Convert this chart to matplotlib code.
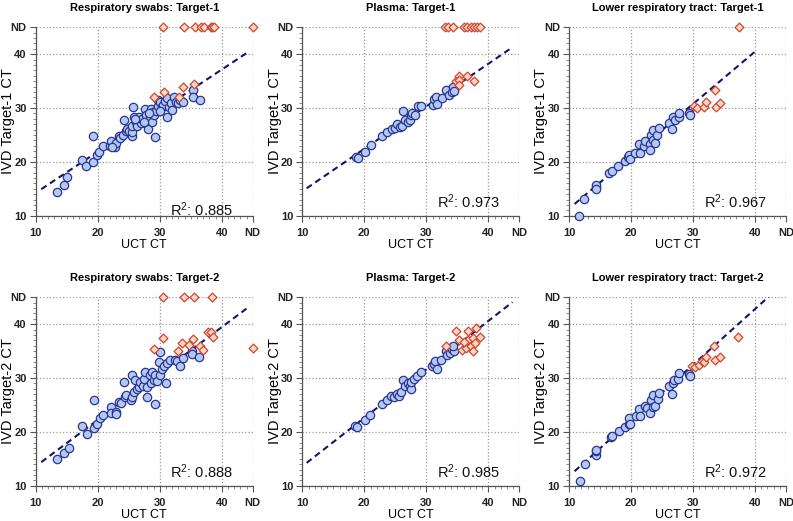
import matplotlib
matplotlib.use("Agg")
import matplotlib.pyplot as plt
import numpy as np
from matplotlib.ticker import MultipleLocator, FixedLocator

plt.rcParams['font.family'] = ['Liberation Sans', 'DejaVu Sans']
plt.rcParams['mathtext.fontset'] = 'custom'
plt.rcParams['mathtext.rm'] = 'Liberation Sans'
plt.rcParams['mathtext.it'] = 'Liberation Sans'

ND = 45

titles = ["Respiratory swabs: Target-1", "Plasma: Target-1", "Lower respiratory tract: Target-1",
          "Respiratory swabs: Target-2", "Plasma: Target-2", "Lower respiratory tract: Target-2"]
ylabels = ["IVD Target-1 CT"] * 3 + ["IVD Target-2 CT"] * 3
r2_values = ["0.885", "0.973", "0.967", "0.888", "0.985", "0.972"]
tick_labels = ["10", "20", "30", "40", "ND"]
tick_values = [10, 20, 30, 40, ND]

# regression lines: slope, intercept, x start, x end
line_slope = [0.763, 0.789, 0.972, 0.861, 0.899, 1.035]
line_intercept = [6.63, 6.66, 1.60, 5.01, 4.64, 1.42]
line_x0 = [10.9, 10.7, 10.9, 10.9, 10.7, 10.9]
line_x1 = [44.4, 43.8, 40.0, 44.1, 43.9, 42.4]

# ---- Panel 1: Respiratory swabs Target-1
p1_blue_x = [13.4, 14.5, 15.1, 17.4, 18.1, 19.25, 19.25, 19.9, 20.2, 20.8, 22.0, 22.1, 22.75, 22.9,
             23.4, 23.6, 24.0, 24.2, 24.5, 24.7, 25.05, 25.5, 25.5, 25.6, 25.7, 25.9, 26.1, 26.4,
             26.7, 27.0, 27.2, 27.6, 27.8, 27.95, 28.05, 28.4, 28.6, 28.7, 28.9, 29.15, 29.3, 29.4,
             29.7, 29.8, 30.1, 30.4, 30.6, 30.8, 31.1, 31.2, 31.5, 31.8, 32.0, 32.3, 32.6, 33.0,
             33.3, 33.8, 35.3, 35.3, 36.5, 26.0, 27.5, 28.2, 30.0, 22.3]
p1_blue_y = [14.5, 15.75, 17.2, 20.3, 19.3, 20.0, 24.8, 21.2, 21.9, 22.9, 23.0, 23.9, 22.7, 23.5,
             24.8, 24.5, 25.0, 27.7, 25.8, 26.1, 25.8, 24.9, 25.6, 26.7, 30.2, 28.4, 27.5, 26.6,
             28.4, 27.2, 27.9, 29.8, 28.7, 27.1, 26.1, 28.1, 29.8, 27.4, 29.2, 28.7, 24.7, 29.4,
             30.3, 31.5, 31.1, 30.2, 30.6, 31.3, 28.4, 31.8, 30.2, 30.9, 29.7, 32.0, 31.2, 30.9,
             31.5, 31.1, 33.3, 32.0, 31.5, 28.0, 27.5, 29.0, 29.5, 22.8]
p1_red_x = [30.5, 33.9, 35.7, 36.7, 37.1, 38.2, 38.5, 38.8, 45, 29.05, 30.7, 33.15, 33.75, 35.6]
p1_red_y = [45, 45, 45, 45, 45, 45, 45, 45, 45, 32.0, 33.0, 32.1, 33.9, 34.5]

# ---- Panel 2: Plasma Target-1
p2_blue_x = [18.7, 19.0, 20.1, 21.0, 22.8, 23.6, 24.4, 25.0, 25.3, 25.8, 26.0, 26.3, 26.6, 27.1,
             27.4, 27.5, 27.7, 28.2, 28.6, 29.2, 31.0, 31.2, 31.6, 31.8, 32.5, 33.2, 33.7, 34.1,
             34.3, 34.5]
p2_blue_y = [21.0, 20.75, 21.9, 23.2, 24.8, 25.6, 26.1, 26.3, 27.1, 26.4, 26.7, 29.5, 27.7, 27.5,
             27.8, 28.7, 29.0, 28.7, 30.3, 30.4, 30.6, 31.6, 32.1, 30.8, 31.8, 33.4, 32.4, 32.9,
             33.9, 33.1]
p2_red_x = [33.0, 33.5, 34.3, 36.1, 36.6, 37.2, 37.7, 38.2, 38.7, 34.75, 35.2, 35.3, 35.2, 36.5, 37.7]
p2_red_y = [45, 45, 45, 45, 45, 45, 45, 45, 45, 35.1, 36.0, 35.2, 34.3, 36.0, 35.0]

# ---- Panel 3: Lower respiratory tract Target-1
p3_blue_x = [11.6, 12.4, 14.3, 14.4, 14.4, 16.5, 16.9, 17.9, 19.0, 19.5, 19.6, 19.9, 20.7, 21.3,
             21.4, 22.1, 22.3, 23.0, 23.1, 23.3, 23.5, 23.6, 23.8, 24.2, 24.5, 26.2, 26.6, 26.7,
             27.1, 27.7, 27.8, 29.4, 29.5]
p3_blue_y = [10.0, 13.15, 15.4, 15.75, 15.0, 18.0, 18.4, 19.3, 20.1, 21.0, 21.3, 20.55, 21.7, 23.4,
             21.7, 22.9, 23.8, 23.4, 22.25, 25.0, 24.1, 26.0, 23.5, 25.0, 26.3, 27.3, 26.1, 28.3,
             27.8, 28.3, 29.0, 29.0, 28.7]
p3_red_x = [30.1, 30.7, 31.8, 32.1, 33.5, 33.7, 34.4, 37.4]
p3_red_y = [30.4, 30.0, 30.2, 31.2, 33.4, 30.2, 31.0, 45]

# ---- Panel 4: Respiratory swabs Target-2
p4_blue_x = [13.5, 14.6, 15.3, 17.5, 18.3, 19.4, 19.4, 19.9, 20.3, 20.8, 22.1, 22.2, 22.9, 23.0,
             23.4, 23.7, 24.2, 24.4, 24.5, 25.3, 25.5, 25.6, 25.8, 26.0, 26.3, 26.6, 26.9, 27.3,
             27.5, 27.7, 27.9, 28.0, 28.4, 28.6, 28.75, 29.0, 29.2, 29.3, 29.6, 29.9, 30.0, 30.1,
             30.4, 30.7, 31.0, 31.1, 31.7, 32.4, 32.8, 33.2, 33.8, 35.2, 35.2, 36.3]
p4_blue_y = [15.05, 16.1, 17.0, 21.1, 19.7, 25.9, 20.7, 21.5, 22.5, 23.1, 24.6, 23.5, 23.7, 23.3,
             25.6, 25.3, 29.3, 26.5, 26.8, 26.0, 26.4, 30.5, 27.4, 29.7, 28.0, 28.3, 29.3, 28.6,
             29.9, 31.2, 28.3, 26.4, 30.5, 29.1, 31.1, 29.7, 25.1, 30.5, 29.4, 33.0, 30.6, 34.8,
             31.7, 32.2, 29.1, 32.8, 33.4, 33.3, 33.1, 32.3, 33.7, 35.0, 34.4, 33.9]
p4_red_x = [30.5, 33.9, 35.5, 38.5, 29.0, 30.5, 32.9, 33.6, 35.4, 34.8, 36.5, 36.95, 37.8, 38.2,
            38.6, 45]
p4_red_y = [45, 45, 45, 45, 35.4, 37.4, 35.1, 36.5, 37.2, 36.1, 35.9, 35.2, 38.6, 38.5, 37.7, 35.6]

# ---- Panel 5: Plasma Target-2
p5_blue_x = [18.5, 18.9, 20.1, 20.97, 22.9, 23.6, 24.3, 24.8, 25.3, 25.6, 25.9, 26.3, 26.6, 27.0,
             27.3, 27.5, 27.6, 28.0, 28.5, 29.2, 30.9, 31.2, 31.4, 31.8, 32.4, 33.1, 33.4, 33.8,
             34.1, 34.4, 34.3]
p5_blue_y = [21.1, 20.9, 22.2, 23.1, 25.25, 26.0, 26.6, 26.4, 27.1, 26.6, 27.4, 29.7, 28.5, 29.0,
             28.5, 28.0, 29.2, 29.9, 30.3, 31.2, 32.2, 32.7, 33.1, 31.7, 33.3, 35.0, 34.2, 34.6,
             35.4, 35.0, 36.0]
p5_red_x = [34.8, 35.3, 35.8, 36.4, 36.8, 36.7, 37.2, 37.5, 37.6, 37.9, 38.0, 38.7, 33.2, 36.1]
p5_red_y = [38.7, 37.1, 35.2, 35.6, 37.0, 38.8, 36.0, 37.5, 35.1, 36.6, 39.3, 37.7, 35.9, 36.7]

# ---- Panel 6: Lower respiratory tract Target-2
p6_blue_x = [11.7, 12.5, 14.3, 14.4, 14.4, 16.7, 17.0, 18.1, 19.0, 19.6, 19.7, 19.9, 20.75, 21.3,
             21.4, 22.2, 22.5, 23.1, 23.3, 23.5, 23.5, 23.8, 24.3, 24.5, 26.2, 26.6, 26.7, 27.0,
             27.6, 27.8, 29.4, 29.5]
p6_blue_y = [10.9, 14.0, 15.8, 16.4, 16.7, 19.0, 19.2, 20.1, 20.9, 21.5, 22.5, 21.4, 22.9, 24.3,
             22.9, 24.9, 24.5, 23.6, 25.9, 24.6, 26.8, 24.8, 26.2, 27.3, 28.5, 27.1, 29.1, 29.6,
             29.8, 30.9, 30.8, 30.3]
p6_red_x = [29.9, 30.4, 30.9, 31.5, 31.8, 32.05, 33.4, 33.6, 34.3, 37.3]
p6_red_y = [32.3, 32.0, 32.5, 33.1, 33.0, 33.9, 35.9, 33.3, 34.0, 37.6]

blue_x = [p1_blue_x, p2_blue_x, p3_blue_x, p4_blue_x, p5_blue_x, p6_blue_x]
blue_y = [p1_blue_y, p2_blue_y, p3_blue_y, p4_blue_y, p5_blue_y, p6_blue_y]
red_x = [p1_red_x, p2_red_x, p3_red_x, p4_red_x, p5_red_x, p6_red_x]
red_y = [p1_red_y, p2_red_y, p3_red_y, p4_red_y, p5_red_y, p6_red_y]
r2_ypos = [11.2, 12.6, 12.6, 12.6, 12.6, 12.6]

W, H = 793, 521
fig = plt.figure(figsize=(W / 100, H / 100), dpi=100)

lefts = [35.7, 302.3, 569.0]
tops = [27.3, 297.3]
aw, ah = 217.0, 188.5

blue_face = '#b3c9f3'
blue_edge = '#2a3590'
red_face = '#fbd8c4'
red_edge = '#d0452f'
line_col = '#14146e'

for i in range(6):
    r, c = divmod(i, 3)
    rect = [lefts[c] / W, 1 - (tops[r] + ah) / H, aw / W, ah / H]
    ax = fig.add_axes(rect)
    ax.set_xlim(10, ND)
    ax.set_ylim(10, ND)
    ax.spines['top'].set_visible(False)
    ax.spines['right'].set_visible(False)
    for s in ['left', 'bottom']:
        ax.spines[s].set_color('#555555')
        ax.spines[s].set_linewidth(0.9)
    ax.xaxis.set_major_locator(FixedLocator(tick_values))
    ax.yaxis.set_major_locator(FixedLocator(tick_values))
    ax.set_xticklabels(tick_labels)
    ax.set_yticklabels(tick_labels)
    ax.xaxis.set_minor_locator(MultipleLocator(1))
    ax.yaxis.set_minor_locator(MultipleLocator(1))
    ax.tick_params(which='major', length=4, width=0.8, color='#555555', labelsize=8)
    ax.tick_params(axis='x', which='major', pad=5)
    ax.tick_params(axis='y', which='major', pad=2.5)
    ax.tick_params(which='minor', length=2.2, width=0.6, color='#777777')
    for lab in ax.get_xticklabels() + ax.get_yticklabels():
        lab.set_fontweight('bold')
        lab.set_color('#222222')
    ax.grid(True, which='major', linestyle=':', color='#9a9a9a', linewidth=0.9)
    ax.set_axisbelow(True)

    xs = np.array([line_x0[i], line_x1[i]])
    ax.plot(xs, line_slope[i] * xs + line_intercept[i], linestyle=(0, (3, 2)),
            color=line_col, linewidth=1.5, zorder=2)

    ax.scatter(blue_x[i], blue_y[i], s=36, marker='o', facecolor=blue_face,
               edgecolor=blue_edge, linewidths=0.9, zorder=3, clip_on=False)
    ax.scatter(red_x[i], red_y[i], s=20, marker='D', facecolor=red_face,
               edgecolor=red_edge, linewidths=0.9, zorder=4, clip_on=False)

    ax.text(31.7, r2_ypos[i], r'R$^2$: ' + r2_values[i], fontsize=10.5,
            ha='left', va='center', color='#111111')
    ax.set_title(titles[i], fontsize=8, fontweight='bold', pad=12)
    ax.set_ylabel(ylabels[i], fontsize=10.5, va='center')
    ax.yaxis.set_label_coords(-27.5 / aw, 0.5)
    ax.set_xlabel("UCT CT", fontsize=9, va='center')
    ax.xaxis.set_label_coords(0.5, -29.5 / ah)

fig.savefig("out.png", dpi=100)
